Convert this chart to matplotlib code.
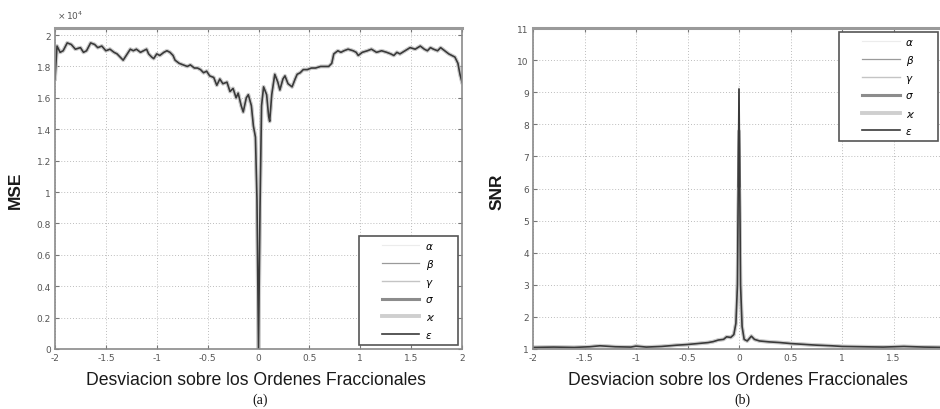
import matplotlib
matplotlib.use("Agg")
import matplotlib.pyplot as plt
from matplotlib.legend_handler import HandlerLine2D

# Fractional-order deviation grid and MSE (in units of 10^4)
mse_x = [-2.00, -1.98, -1.95, -1.92, -1.88, -1.84, -1.80, -1.75, -1.72, -1.69,
         -1.65, -1.61, -1.58, -1.54, -1.50, -1.46, -1.42, -1.39, -1.36, -1.33,
         -1.30, -1.26, -1.23, -1.20, -1.16, -1.13, -1.10, -1.08, -1.05, -1.03,
         -1.00, -0.97, -0.93, -0.90, -0.87, -0.84, -0.82, -0.78, -0.74, -0.70,
         -0.67, -0.63, -0.60, -0.57, -0.54, -0.51, -0.48, -0.44, -0.41, -0.38,
         -0.35, -0.31, -0.28, -0.25, -0.22, -0.20, -0.17, -0.15, -0.12, -0.10,
         -0.07, -0.05, -0.03, -0.015, 0.0, 0.015, 0.03, 0.05, 0.08, 0.10,
         0.11, 0.13, 0.16, 0.19, 0.21, 0.24, 0.26, 0.29, 0.33, 0.36,
         0.38, 0.41, 0.44, 0.48, 0.52, 0.56, 0.61, 0.65, 0.69, 0.72,
         0.74, 0.78, 0.81, 0.84, 0.88, 0.93, 0.96, 0.98, 1.02, 1.07,
         1.11, 1.16, 1.21, 1.26, 1.30, 1.33, 1.36, 1.39, 1.44, 1.49,
         1.54, 1.59, 1.63, 1.66, 1.69, 1.72, 1.76, 1.79, 1.83, 1.87,
         1.90, 1.93, 1.96, 1.98, 2.00]
mse_val = [1.72, 1.93, 1.89, 1.90, 1.95, 1.94, 1.91, 1.92, 1.89, 1.90,
           1.95, 1.94, 1.92, 1.93, 1.90, 1.91, 1.89, 1.88, 1.86, 1.84,
           1.87, 1.91, 1.90, 1.91, 1.89, 1.90, 1.91, 1.88, 1.86, 1.85,
           1.88, 1.87, 1.89, 1.90, 1.89, 1.87, 1.84, 1.82, 1.81, 1.80,
           1.81, 1.79, 1.79, 1.78, 1.76, 1.77, 1.74, 1.73, 1.68, 1.72,
           1.69, 1.70, 1.64, 1.66, 1.60, 1.63, 1.55, 1.51, 1.60, 1.62,
           1.55, 1.42, 1.35, 0.95, 0.00, 0.90, 1.55, 1.67, 1.62, 1.48,
           1.45, 1.62, 1.75, 1.70, 1.65, 1.72, 1.74, 1.69, 1.67, 1.72,
           1.75, 1.76, 1.78, 1.78, 1.79, 1.79, 1.80, 1.80, 1.80, 1.82,
           1.88, 1.90, 1.89, 1.90, 1.91, 1.90, 1.89, 1.87, 1.89, 1.90,
           1.91, 1.89, 1.90, 1.89, 1.88, 1.87, 1.89, 1.88, 1.90, 1.92,
           1.91, 1.93, 1.91, 1.90, 1.92, 1.91, 1.90, 1.92, 1.90, 1.88,
           1.87, 1.86, 1.82, 1.75, 1.70]

# SNR curve (shared away from zero) and the peak reached by each parameter at zero
snr_x = [-2.00, -1.80, -1.60, -1.45, -1.35, -1.20, -1.05, -1.00, -0.90, -0.75,
         -0.60, -0.50, -0.40, -0.30, -0.25, -0.20, -0.15, -0.12, -0.08, -0.05,
         -0.03, -0.015, 0.0, 0.015, 0.03, 0.05, 0.08, 0.12, 0.15, 0.20,
         0.30, 0.40, 0.50, 0.60, 0.75, 0.90, 1.00, 1.20, 1.40, 1.60,
         1.80, 2.00]
snr_val = [1.05, 1.06, 1.05, 1.07, 1.10, 1.07, 1.06, 1.09, 1.06, 1.08,
           1.12, 1.14, 1.17, 1.20, 1.23, 1.28, 1.30, 1.38, 1.36, 1.45,
           1.80, 3.00, None, 3.00, 1.70, 1.30, 1.25, 1.40, 1.30, 1.25,
           1.22, 1.20, 1.17, 1.15, 1.12, 1.10, 1.08, 1.07, 1.06, 1.08,
           1.06, 1.05]
snr_peak = [9.2, 9.1, 8.5, 7.8, 6.0, 9.1]

params = ["α", "β", "γ", "σ", "ϰ", "ε"]
colors = ["#ececec", "#9a9a9a", "#c4c4c4", "#8c8c8c", "#cfcfcf", "#3a3a3a"]
widths = [0.8, 0.9, 1.0, 2.2, 2.8, 1.2]

xticks = [-2, -1.5, -1, -0.5, 0, 0.5, 1, 1.5, 2]
xtick_labels = ["-2", "-1.5", "-1", "-0.5", "0", "0.5", "1", "1.5", "2"]
mse_ticks = [0, 0.2, 0.4, 0.6, 0.8, 1.0, 1.2, 1.4, 1.6, 1.8, 2.0]
mse_tick_labels = ["0", "0.2", "0.4", "0.6", "0.8", "1", "1.2", "1.4", "1.6", "1.8", "2"]
snr_ticks = list(range(1, 12))

W, H = 940, 410
fig = plt.figure(figsize=(W / 100, H / 100), dpi=100)

def px(x0, y0, x1, y1):
    return [x0 / W, 1 - y1 / H, (x1 - x0) / W, (y1 - y0) / H]

ax1 = fig.add_axes(px(55, 29, 462, 350))
ax2 = fig.add_axes(px(533, 29, 945, 350))

tick_col = "#555555"
frame_col = "#8a8a8a"

def style(ax, labels):
    ax.grid(True, linestyle=(0, (1, 2)), color="#bdbdbd", linewidth=0.7)
    ax.tick_params(direction="in", length=3, width=0.8, color="#777777",
                   labelsize=6.5, labelcolor=tick_col, top=True, right=True, pad=3)
    for s in ax.spines.values():
        s.set_color(frame_col)
        s.set_linewidth(1.2)
    ax.spines["top"].set_linewidth(2.2)
    ax.spines["top"].set_color("#9a9a9a")
    ax.set_xticks(xticks)
    ax.set_xticklabels(labels)
    ax.set_xlim(-2, 2)

pad = "\u2003   "

# (a) MSE
for lab, c, lw in zip(params, colors, widths):
    ax1.plot(mse_x, mse_val, color=c, lw=lw, label=lab + pad)
style(ax1, xtick_labels)
ax1.set_ylim(0, 2.045)
ax1.set_yticks(mse_ticks)
ax1.set_yticklabels(mse_tick_labels)

# (b) SNR; the rightmost tick sits past the figure edge
for lab, c, lw, pk in zip(params, colors, widths, snr_peak):
    yv = [pk if v is None else v for v in snr_val]
    ax2.plot(snr_x, yv, color=c, lw=lw, label=lab + pad)
style(ax2, xtick_labels[:-1] + [""])
ax2.set_ylim(1, 11)
ax2.set_yticks(snr_ticks)

leg_kw = dict(frameon=True, fancybox=False, handlelength=5.3,
              handletextpad=0.6, labelspacing=0.75, borderpad=0.5,
              borderaxespad=0.0,
              handler_map={plt.Line2D: HandlerLine2D(xpad=1.7)},
              prop={"family": "DejaVu Sans", "style": "italic", "size": 7.5})
l1 = ax1.legend(loc="lower right", bbox_to_anchor=(0.990, 0.012), **leg_kw)
l2 = ax2.legend(loc="upper right", bbox_to_anchor=(0.983, 0.988), **leg_kw)
for lg in (l1, l2):
    fr = lg.get_frame()
    fr.set_edgecolor("#555555")
    fr.set_linewidth(1.2)
    fr.set_facecolor("white")
    fr.set_alpha(1)

label_font = dict(family="Liberation Sans", color="#1a1a1a")
fig.text(256 / W, 1 - 381 / H, "Desviacion sobre los Ordenes Fraccionales",
         ha="center", va="center", size=12.7, **label_font)
fig.text(738 / W, 1 - 381 / H, "Desviacion sobre los Ordenes Fraccionales",
         ha="center", va="center", size=12.7, **label_font)
fig.text(15 / W, 1 - 190 / H, "MSE", rotation=90, ha="center", va="center",
         weight="bold", size=12.5, **label_font)
fig.text(497 / W, 1 - 192 / H, "SNR", rotation=90, ha="center", va="center",
         weight="bold", size=12.5, **label_font)
fig.text(57 / W, 1 - 16 / H, r"$\times\,10^{4}$", ha="left", va="center",
         fontsize=6.5, color=tick_col)
cap_font = dict(family="Liberation Serif", size=10, color="#111111")
fig.text(260 / W, 1 - 400 / H, "(a)", ha="center", va="center", **cap_font)
fig.text(742 / W, 1 - 400 / H, "(b)", ha="center", va="center", **cap_font)

fig.savefig("out.png", dpi=100)
